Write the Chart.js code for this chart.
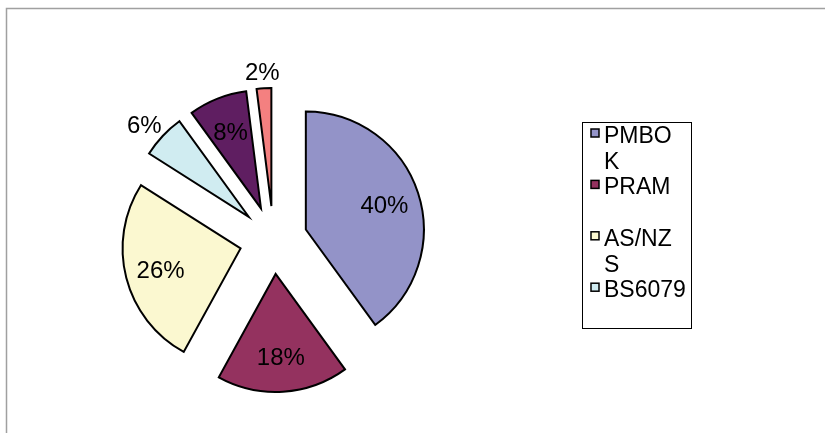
<!DOCTYPE html>
<html>
<head>
<meta charset="utf-8">
<title>Exploded pie</title>
<script src="https://cdn.jsdelivr.net/npm/chart.js@4.4.0/dist/chart.umd.min.js"></script>
<style>
    html, body { margin: 0; padding: 0; background: #fff; }
    #wrap { position: relative; width: 825px; height: 433px; }
</style>
</head>
<body>
<div id="wrap"><canvas id="pie_chart"></canvas></div>
<script>
// chart data
const labels = ['PMBOK', 'PRAM', 'AS/NZS', 'BS6079', 'RAMP', 'Other'];
const values = [40, 18, 26, 6, 8, 2];
const colors = ['#9393c8', '#94325f', '#fbf8d0', '#d0ecf1', '#5f1e61', '#f48080'];

// layout bits (excel style exploded pie + boxed legend)
const EXPLODE = 34;
const PIE_RADIUS = 118;
const LEG = {x: 582, y: 122, w: 109, h: 206};
const LEG_TEXT_W = 82.5;
const LEG_FONT = '23px "Liberation Sans", Arial, sans-serif';
const LABEL_FONT = '24px "Liberation Sans", Arial, sans-serif';

// push every slice out along its middle angle
var explodePlugin = {
    id: 'explode',
    afterUpdate: function (chart) {
        chart.getDatasetMeta(0).data.forEach(function (arc) {
            var mid = (arc.startAngle + arc.endAngle) / 2;
            arc.x += Math.cos(mid) * EXPLODE;
            arc.y += Math.sin(mid) * EXPLODE;
        });
    }
};

// outer frame of the chart object (runs off the right / bottom)
var framePlugin = {
    id: 'frame',
    beforeDraw: function (chart) {
        var ctx = chart.ctx;
        ctx.save();
        ctx.strokeStyle = '#a0a0a0';
        ctx.lineWidth = 1.5;
        ctx.beginPath();
        ctx.moveTo(6.5, chart.height + 5);
        ctx.lineTo(6.5, 8.5);
        ctx.lineTo(chart.width + 5, 8.5);
        ctx.stroke();
        ctx.restore();
    }
};

// percentage labels, inside when they fit, outside otherwise
var labelPlugin = {
    id: 'pctLabels',
    afterDatasetsDraw: function (chart) {
        var ctx = chart.ctx;
        var data = chart.data.datasets[0].data;
        var total = data.reduce(function (a, b) { return a + b; }, 0);
        var capH = 24 * 0.716;
        ctx.save();
        ctx.font = LABEL_FONT;
        ctx.fillStyle = '#000';
        ctx.textAlign = 'center';
        ctx.textBaseline = 'alphabetic';
        chart.getDatasetMeta(0).data.forEach(function (arc, i) {
            var text = Math.round(data[i] / total * 100) + '%';
            var w = ctx.measureText(text).width;
            var mid = (arc.startAngle + arc.endAngle) / 2;
            var dx = Math.cos(mid), dy = Math.sin(mid);
            var rIn = arc.outerRadius * 0.7;
            var cx, cy;
            if ((arc.endAngle - arc.startAngle) * rIn > w + 4) {
                cx = arc.x + dx * rIn;
                cy = arc.y + dy * rIn;
            } else {
                var rOut = arc.outerRadius + 8;
                cx = arc.x + dx * rOut + dx * w / 2;
                cy = arc.y + dy * rOut + dy * capH / 2;
            }
            ctx.fillText(text, cx, cy + capH / 2);
        });
        ctx.restore();
    }
};

function wrapText(ctx, text, maxWidth) {
    var lines = [];
    var cur = '';
    for (var i = 0; i < text.length; i++) {
        var test = cur + text[i];
        if (cur !== '' && ctx.measureText(test).width > maxWidth) {
            lines.push(cur);
            cur = text[i];
        } else {
            cur = test;
        }
    }
    if (cur !== '') lines.push(cur);
    return lines;
}

// legend box like excel: every entry gets the same height, the ones that don't fit are dropped
var legendPlugin = {
    id: 'boxLegend',
    afterDraw: function (chart) {
        var ctx = chart.ctx;
        var lineH = 25.7;
        var textX = LEG.x + 22;
        ctx.save();
        ctx.font = LEG_FONT;

        var wrapped = chart.data.labels.map(function (l) { return wrapText(ctx, l, LEG_TEXT_W); });
        var maxLines = Math.max.apply(null, wrapped.map(function (w) { return w.length; }));
        var entryH = maxLines * lineH;
        var shown = Math.floor(LEG.h / entryH);

        ctx.fillStyle = '#fff';
        ctx.fillRect(LEG.x, LEG.y, LEG.w, LEG.h);
        ctx.strokeStyle = '#000';
        ctx.lineWidth = 1;
        ctx.strokeRect(LEG.x + 0.5, LEG.y + 0.5, LEG.w, LEG.h);

        var bg = chart.data.datasets[0].backgroundColor;
        for (var i = 0; i < shown && i < wrapped.length; i++) {
            var base = LEG.y + 21 + i * entryH;
            ctx.fillStyle = bg[i];
            ctx.fillRect(LEG.x + 9, base - 14, 8, 8);
            ctx.strokeStyle = '#000';
            ctx.lineWidth = 1.5;
            ctx.strokeRect(LEG.x + 9, base - 14, 8, 8);
            ctx.fillStyle = '#000';
            ctx.textAlign = 'left';
            ctx.textBaseline = 'alphabetic';
            wrapped[i].forEach(function (line, k) {
                ctx.fillText(line, textX, base + k * lineH);
            });
        }
        ctx.restore();
    }
};

var config = {
    type: 'pie',
    data: {
        labels: labels,
        datasets: [{
                data: values,
                backgroundColor: colors,
                borderColor: '#000',
                borderWidth: 2,
                borderJoinStyle: 'miter'
            }]
    },
    options: {
        responsive: true,
        maintainAspectRatio: false,
        animation: false,
        events: [],
        radius: PIE_RADIUS,
        layout: {
            padding: {left: 0, right: 278, top: 47, bottom: 0}
        },
        plugins: {
            legend: {display: false},
            tooltip: {enabled: false}
        }
    },
    plugins: [framePlugin, explodePlugin, labelPlugin, legendPlugin]
};

var pieChart = new Chart(document.getElementById('pie_chart'), config);
</script>
</body>
</html>
